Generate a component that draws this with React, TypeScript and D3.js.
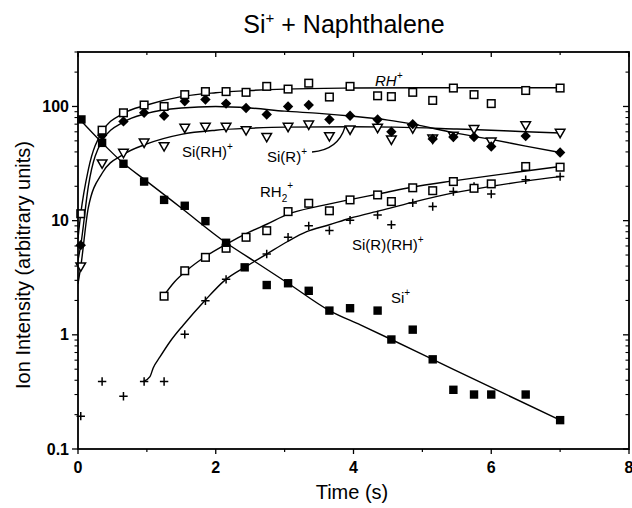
import React, { useEffect } from "react";
import * as d3 from "d3";

type P = [number, number];

// ---- data (time s, ion intensity) ----
const siData: P[] = [[0.05,77],[0.35,48],[0.66,31.5],[0.96,22],[1.25,15.2],[1.55,13.5],[1.85,9.9],[2.15,6.4],[2.42,3.9],[2.74,2.73],[3.05,2.83],[3.35,2.43],[3.65,1.63],[3.95,1.71],[4.35,1.63],[4.55,0.91],[4.86,1.11],[5.15,0.61],[5.45,0.33],[5.75,0.30],[6.0,0.30],[6.5,0.30],[7.0,0.179]];
const siFit: P[] = [[0,80],[0.35,48],[0.66,31.8],[1.0,22.1],[1.5,12.9],[2.15,6.4],[2.6,4.26],[3.05,2.83],[3.65,1.63],[4.1,1.22],[4.55,0.91],[5.15,0.61],[6.0,0.346],[7.0,0.179]];

const rhData: P[] = [[0.04,11.5],[0.35,62],[0.66,88],[0.96,103],[1.25,100],[1.55,127],[1.85,135],[2.15,135],[2.44,133],[2.74,150],[3.05,142],[3.35,160],[3.65,121],[3.95,150],[4.35,124],[4.55,122],[4.86,133],[5.15,113],[5.45,145],[5.75,127],[6.0,106],[6.5,138],[7.0,145]];
const rhFit: P[] = [[0,7],[0.04,11.5],[0.15,28],[0.35,60],[0.66,87],[1.0,103],[1.5,122],[2,132],[2.5,138],[3,142],[4,145],[5,146],[6,146],[7,146]];

const siRhData: P[] = [[0.04,6.1],[0.35,56],[0.66,74],[0.96,88],[1.25,83],[1.55,111],[1.85,115],[2.15,106],[2.44,97],[2.74,85],[3.05,100],[3.35,103],[3.65,77],[3.95,83],[4.35,77],[4.55,60],[4.86,70],[5.15,52],[5.45,54],[5.75,54],[6.0,44.6],[6.5,55],[7.0,39.5]];
const siRhFit: P[] = [[0,4.5],[0.04,6.1],[0.15,20],[0.35,50],[0.66,73],[1,87],[1.5,97],[2,100],[2.5,97],[3,91],[3.5,87],[4,82],[4.5,76],[4.86,70],[5.45,59],[6,51.5],[6.5,45],[7,39.5]];

const siRData: P[] = [[0.04,3.95],[0.35,31.5],[0.66,39],[0.96,48],[1.25,44.6],[1.55,64.6],[1.85,66],[2.15,66],[2.44,61.6],[2.74,53.8],[3.05,66],[3.35,69],[3.65,54.6],[3.95,62.5],[4.35,64.6],[4.55,51],[4.86,64],[5.15,52],[5.45,55],[5.75,63],[6.0,49],[6.5,68],[7.0,58.5]];
const siRFit: P[] = [[0,2.8],[0.04,3.95],[0.15,13],[0.35,26],[0.66,38],[1,47],[1.5,57],[2,62],[2.5,64.5],[3,66],[4,66.5],[4.6,66],[5.5,63.5],[6,62],[6.5,60],[7,58.5]];

const rh2Data: P[] = [[1.25,2.18],[1.55,3.64],[1.85,4.77],[2.15,5.73],[2.44,7.15],[2.74,8.17],[3.05,12.0],[3.35,14.2],[3.65,12.2],[3.95,15.2],[4.35,16.8],[4.55,14.7],[4.86,19.4],[5.15,18.3],[5.45,22],[5.75,19.2],[6.0,21],[6.5,29.8],[7.0,29.4]];
const rh2Fit: P[] = [[1.24,2.18],[1.4,2.9],[1.6,3.75],[1.84,4.8],[2.15,6.2],[2.5,8.0],[2.74,9.3],[3.05,11.4],[3.5,13.4],[3.95,15.3],[4.4,17.3],[4.84,19.6],[5.45,22.3],[6,24.8],[6.5,27.2],[7,29.8]];

const siRRhData: P[] = [[0.04,0.194],[0.35,0.39],[0.66,0.29],[0.96,0.39],[1.25,0.39],[1.55,1.01],[1.85,1.99],[2.15,3.06],[2.74,5.1],[3.05,7.15],[3.35,9.0],[3.65,8.2],[3.95,10.1],[4.35,11.2],[4.55,9.2],[4.86,14.3],[5.15,13.3],[5.45,18],[5.75,19.9],[6.0,17.1],[6.5,22.8],[7.0,24.3]];
const siRRhFit: P[] = [[0.95,0.39],[1.045,0.43],[1.09,0.51],[1.19,0.64],[1.335,0.87],[1.53,1.22],[1.84,1.99],[2.13,3.0],[2.45,4.0],[2.74,5.1],[3.05,6.6],[3.32,8.0],[3.65,9.2],[3.95,10.5],[4.4,12.3],[4.84,14.4],[5.45,17.5],[6,20],[6.5,22.2],[7,24.3]];

const xMajorTicks = [0, 2, 4, 6, 8];
const xMinorTicks = [1, 3, 5, 7];
const yMajorTicks = [0.1, 1, 10, 100];
const yTickLabels = ["0.1", "1", "10", "100"];

const W = 632, H = 508;
const L = 78, R = 629, T = 52, B = 449;
const FONT = "'Liberation Sans', Arial, Helvetica, sans-serif";

export default function App() {
  useEffect(() => {
    document.body.style.margin = "0";
  }, []);

  const x = d3.scaleLinear().domain([0, 8]).range([L, R]);
  const y = d3.scaleLog().domain([0.1, 300]).range([B, T]);

  const line = d3
    .line<P>()
    .x((d) => x(d[0]))
    .y((d) => y(d[1]))
    .curve(d3.curveMonotoneX);

  const yMinor: number[] = [];
  [0.1, 1, 10, 100].forEach((dec) => {
    for (let k = 2; k <= 9; k++) {
      const v = dec * k;
      if (v <= 300) yMinor.push(v);
    }
  });

  const sw = 1.5;
  const openSq = (d: P, i: number, key: string) => (
    <rect key={key + i} x={x(d[0]) - 3.8} y={y(d[1]) - 3.8} width={7.6} height={7.6} fill="white" stroke="black" strokeWidth={sw} />
  );
  const fillSq = (d: P, i: number) => (
    <rect key={"fs" + i} x={x(d[0]) - 4.2} y={y(d[1]) - 4.2} width={8.4} height={8.4} fill="black" />
  );
  const diamond = (d: P, i: number) => {
    const cx = x(d[0]), cy = y(d[1]), r = 5.2;
    return <path key={"dm" + i} d={`M${cx},${cy - r}L${cx + r},${cy}L${cx},${cy + r}L${cx - r},${cy}Z`} fill="black" />;
  };
  const tri = (d: P, i: number) => {
    const cx = x(d[0]), cy = y(d[1]);
    return (
      <path key={"tr" + i} d={`M${cx - 4.8},${cy - 3.8}L${cx + 4.8},${cy - 3.8}L${cx},${cy + 4.6}Z`} fill="white" stroke="black" strokeWidth={sw} />
    );
  };
  const plus = (d: P, i: number) => {
    const cx = x(d[0]), cy = y(d[1]), r = 4.2;
    return <path key={"pl" + i} d={`M${cx - r},${cy}H${cx + r}M${cx},${cy - r}V${cy + r}`} stroke="black" strokeWidth={1.5} fill="none" />;
  };

  const fitProps = { fill: "none", stroke: "black", strokeWidth: 1.4 };

  return (
    <svg width={W} height={H} style={{ display: "block", background: "white" }} fontFamily={FONT}>
      <defs>
        <clipPath id="plotclip">
          <rect x={L} y={T} width={R - L} height={B - T} />
        </clipPath>
      </defs>

      {/* title */}
      <text x={344} y={33} fontSize={25} textAnchor="middle" style={{ whiteSpace: "pre" }}>
        <tspan>Si</tspan>
        <tspan dy={-10} fontSize={15}>+</tspan>
        <tspan dy={10}>{" + Naphthalene"}</tspan>
      </text>

      {/* fit lines */}
      <g clipPath="url(#plotclip)">
        <path d={line(siFit) || ""} {...fitProps} />
        <path d={line(rhFit) || ""} {...fitProps} />
        <path d={line(siRhFit) || ""} {...fitProps} />
        <path d={line(siRFit) || ""} {...fitProps} />
        <path d={line(rh2Fit) || ""} {...fitProps} />
        <path d={line(siRRhFit) || ""} {...fitProps} />
      </g>

      {/* markers */}
      <g>
        {siRRhData.map(plus)}
        {siRData.map(tri)}
        {siRhData.map(diamond)}
        {rhData.map((d, i) => openSq(d, i, "rh"))}
        {rh2Data.map((d, i) => openSq(d, i, "rh2"))}
        {siData.map(fillSq)}
      </g>

      {/* frame */}
      <rect x={L} y={T} width={R - L} height={B - T} fill="none" stroke="black" strokeWidth={1.8} />

      {/* x ticks */}
      {xMajorTicks.map((t) => (
        <g key={"xm" + t}>
          <line x1={x(t)} x2={x(t)} y1={B} y2={B + 5} stroke="black" strokeWidth={1.3} />
          <line x1={x(t)} x2={x(t)} y1={T} y2={T + 5} stroke="black" strokeWidth={1.3} />
          <text x={x(t)} y={473} fontSize={16} fontWeight="bold" textAnchor="middle">{t}</text>
        </g>
      ))}
      {xMinorTicks.map((t) => (
        <g key={"xn" + t}>
          <line x1={x(t)} x2={x(t)} y1={B} y2={B + 3} stroke="black" strokeWidth={1.2} />
          <line x1={x(t)} x2={x(t)} y1={T} y2={T + 3} stroke="black" strokeWidth={1.2} />
        </g>
      ))}

      {/* y ticks */}
      {yMajorTicks.map((t, i) => (
        <g key={"ym" + t}>
          <line x1={L - 6} x2={L} y1={y(t)} y2={y(t)} stroke="black" strokeWidth={1.3} />
          <line x1={R - 6} x2={R} y1={y(t)} y2={y(t)} stroke="black" strokeWidth={1.3} />
          <text x={L - 9} y={y(t) + 5.5} fontSize={16} fontWeight="bold" textAnchor="end">{yTickLabels[i]}</text>
        </g>
      ))}
      {yMinor.map((t) => (
        <g key={"yn" + t}>
          <line x1={L - 3.5} x2={L} y1={y(t)} y2={y(t)} stroke="black" strokeWidth={1.1} />
          <line x1={R - 3.5} x2={R} y1={y(t)} y2={y(t)} stroke="black" strokeWidth={1.1} />
        </g>
      ))}

      {/* axis titles */}
      <text x={352} y={499} fontSize={20} textAnchor="middle">Time (s)</text>
      <text transform="translate(30,265) rotate(-90)" fontSize={20} textAnchor="middle">Ion Intensity (arbitrary units)</text>

      {/* series labels */}
      <text x={375} y={86} fontSize={15} fontStyle="italic">
        <tspan>RH</tspan><tspan dy={-7} fontSize={10}>+</tspan>
      </text>
      <text x={182} y={157} fontSize={15}>
        <tspan>Si(RH)</tspan><tspan dy={-7} fontSize={10}>+</tspan>
      </text>
      <text x={267} y={162} fontSize={15}>
        <tspan>Si(R)</tspan><tspan dy={-7} fontSize={10}>+</tspan>
      </text>
      <path d="M312,152 Q338,150 345,127" fill="none" stroke="black" strokeWidth={1.3} />
      <text x={260} y={197} fontSize={15}>
        <tspan>RH</tspan><tspan dy={5} fontSize={10}>2</tspan><tspan dy={-13} fontSize={10}>+</tspan>
      </text>
      <text x={352} y={250} fontSize={15}>
        <tspan>Si(R)(RH)</tspan><tspan dy={-7} fontSize={10}>+</tspan>
      </text>
      <text x={391} y={303} fontSize={15}>
        <tspan>Si</tspan><tspan dy={-7} fontSize={10}>+</tspan>
      </text>
    </svg>
  );
}
